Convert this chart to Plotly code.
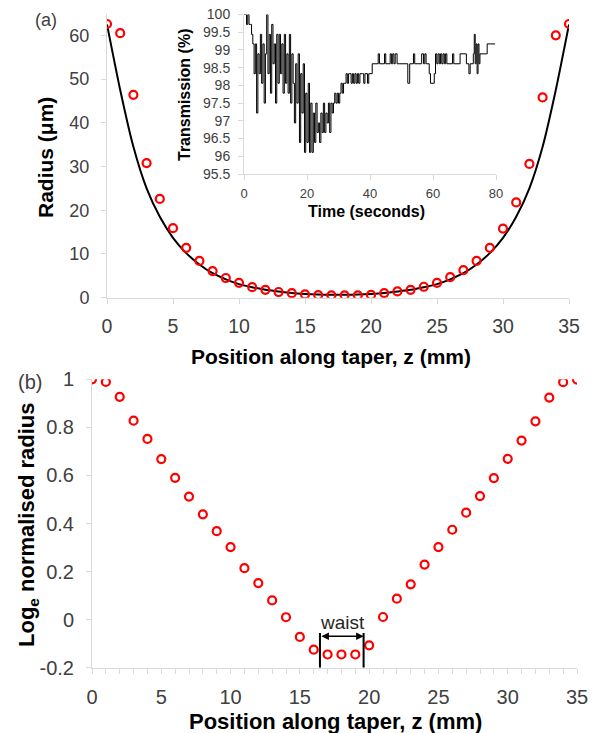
import plotly.graph_objects as go

# ---------------- data ----------------
z_mm = list(range(36))
radius_measured_um = [62.6, 60.5, 46.4, 30.8, 22.6, 15.9, 11.4, 8.4, 6.1, 4.5,
                      3.4, 2.4, 1.8, 1.3, 1.04, 0.74, 0.6, 0.55, 0.55, 0.55,
                      0.64, 1.05, 1.43, 1.8, 2.5, 3.4, 4.7, 6.3, 8.4, 11.4,
                      15.8, 21.8, 30.6, 45.8, 60.0, 62.6]
radius_model_um = [62.5, 47.5, 34.5, 25.0, 18.5, 13.7, 10.2, 7.6, 5.6, 4.2,
                   3.1, 2.4, 1.8, 1.4, 1.05, 0.85, 0.72, 0.66, 0.66, 0.72,
                   0.85, 1.05, 1.4, 1.8, 2.4, 3.1, 4.2, 5.6, 7.6, 10.2,
                   13.7, 18.5, 25.0, 34.5, 47.5, 62.5]
log_norm_radius = [1.0, 0.989, 0.927, 0.828, 0.752, 0.668, 0.590, 0.512, 0.438, 0.368,
                   0.302, 0.214, 0.152, 0.080, 0.010, -0.072, -0.125, -0.145, -0.145, -0.145,
                   -0.107, 0.011, 0.087, 0.147, 0.229, 0.302, 0.374, 0.445, 0.514, 0.589,
                   0.669, 0.745, 0.825, 0.924, 0.988, 0.999]

time_s = [0.0, 0.4, 0.8, 1.2, 1.6, 2.0, 2.4, 2.8, 3.2, 3.6,
          4.0, 4.4, 4.8, 5.2, 5.6, 6.0, 6.4, 6.8, 7.2, 7.6,
          8.0, 8.4, 8.8, 9.2, 9.6, 10.0, 10.4, 10.8, 11.2, 11.6,
          12.0, 12.4, 12.8, 13.2, 13.6, 14.0, 14.4, 14.8, 15.2, 15.6,
          16.0, 16.4, 16.8, 17.2, 17.6, 18.0, 18.4, 18.8, 19.2, 19.6,
          20.0, 20.4, 20.8, 21.2, 21.6, 22.0, 22.4, 22.8, 23.2, 23.6,
          24.0, 24.4, 24.8, 25.2, 25.6, 26.0, 26.4, 26.8, 27.2, 27.6,
          28.0, 28.4, 28.8, 29.2, 29.6, 30.0, 30.4, 30.8, 31.2, 31.6,
          32.0, 32.4, 32.8, 33.2, 33.6, 34.0, 34.4, 34.8, 35.2, 35.6,
          36.0, 36.4, 36.8, 37.6, 38.0, 38.4, 39.2, 39.6, 40.7, 42.6,
          43.0, 44.6, 45.0, 46.4, 46.8, 47.2, 47.6, 48.0, 48.6, 52.0,
          52.6, 53.8, 54.2, 56.4, 57.0, 57.4, 57.8, 58.8, 59.2, 60.4,
          60.8, 61.2, 61.6, 62.0, 62.4, 62.8, 63.2, 63.6, 64.0, 64.4,
          66.2, 66.6, 68.6, 70.6, 71.4, 71.8, 72.8, 73.1, 73.4, 73.7,
          74.0, 74.3, 74.6, 74.9, 77.2, 79.7]
transmission_pct = [100, 100, 99.72, 100, 99.72, 99.72, 99.44, 99.17, 98.33, 99.17,
                    97.22, 98.89, 98.33, 99.44, 98.06, 99.17, 97.50, 98.89, 100.0, 98.33,
                    99.44, 97.78, 99.72, 98.61, 99.17, 97.50, 99.44, 98.06, 99.44, 98.33,
                    99.17, 97.78, 99.44, 98.06, 98.89, 97.78, 99.44, 97.50, 98.89, 98.06,
                    96.94, 98.61, 97.50, 98.89, 96.39, 98.33, 97.22, 98.61, 96.11, 97.78,
                    96.39, 98.06, 96.11, 97.50, 96.11, 97.22, 96.39, 97.50, 96.67, 96.94,
                    96.39, 97.22, 96.67, 97.50, 96.67, 97.22, 96.94, 97.50, 96.67, 97.50,
                    97.22, 97.50, 97.78, 97.50, 97.78, 97.50, 97.78, 98.06, 97.78, 98.06,
                    98.06, 98.33, 98.06, 98.33, 98.33, 98.06, 98.33, 98.06, 98.33, 98.06,
                    98.33, 98.06, 98.33, 98.33, 98.06, 98.33, 98.06, 98.33, 98.61, 98.89,
                    98.61, 98.89, 98.61, 98.89, 98.61, 98.89, 98.61, 98.89, 98.61, 98.06,
                    98.61, 98.89, 98.61, 98.89, 98.61, 98.89, 98.61, 98.33, 98.06, 98.33,
                    98.89, 98.61, 98.89, 98.61, 98.89, 98.61, 98.89, 98.61, 98.89, 98.61,
                    98.89, 98.61, 98.89, 98.61, 98.33, 98.61, 98.89, 99.44, 98.61, 99.17,
                    98.33, 99.17, 98.61, 98.89, 99.17, 99.17]

top_x_ticks = [0, 5, 10, 15, 20, 25, 30, 35]
top_y_ticks = [0, 10, 20, 30, 40, 50, 60]
bot_y_ticks = [-0.2, 0, 0.2, 0.4, 0.6, 0.8, 1]
bot_y_labels = ["-0.2", "0", "0.2", "0.4", "0.6", "0.8", "1"]
inset_y_ticks = [95.5, 96, 96.5, 97, 97.5, 98, 98.5, 99, 99.5, 100]
inset_y_labels = ["95.5", "96", "96.5", "97", "97.5", "98", "98.5", "99", "99.5", "100"]
inset_x_ticks = [0, 20, 40, 60, 80]
waist_bounds_mm = [16.45, 19.6]

# ---------------- layout geometry (page pixels; page body has an 8px offset) ----------------
OFF = 8
W, H = 600 - OFF, 733 - OFF

def px(x):
    return (x - OFF) / W

def py(y):
    return 1 - (y - OFF) / H

def dom_x(a, b):
    return [px(a), px(b)]

def dom_y(top, bottom):
    return [py(bottom), py(top)]

FONT = "Liberation Sans, Arial, sans-serif"
AX = "#d9d9d9"
TXT = "#404040"
RED = "#ff0000"

fig = go.Figure()

fig.add_trace(go.Scatter(x=z_mm, y=radius_model_um, mode="lines",
                         line=dict(color="black", width=2, shape="spline", smoothing=0.6),
                         xaxis="x", yaxis="y", hoverinfo="skip"))
fig.add_trace(go.Scatter(x=z_mm, y=radius_measured_um, mode="markers",
                         marker=dict(symbol="circle-open", size=8, color=RED, line=dict(width=2.2, color=RED)),
                         xaxis="x", yaxis="y"))
fig.add_trace(go.Scatter(x=time_s, y=transmission_pct, mode="lines",
                         line=dict(color="black", width=1, shape="hv"),
                         xaxis="x3", yaxis="y3"))
fig.add_trace(go.Scatter(x=z_mm, y=log_norm_radius, mode="markers",
                         marker=dict(symbol="circle-open", size=8, color=RED, line=dict(width=2.2, color=RED)),
                         xaxis="x2", yaxis="y2"))

common = dict(showgrid=False, zeroline=False, showline=True, linecolor=AX, linewidth=1,
              ticks="outside", tickcolor=AX, ticklen=5, tickwidth=1, automargin=False,
              ticklabeloverflow="allow")

fig.update_layout(
    width=W, height=H,
    margin=dict(l=0, r=0, t=0, b=0, autoexpand=False),
    paper_bgcolor="white", plot_bgcolor="white",
    showlegend=False,
    font=dict(family=FONT, color=TXT),
    xaxis=dict(domain=dom_x(107, 569), range=[0, 35], anchor="y",
               tickvals=top_x_ticks, tickfont=dict(size=19.5, color=TXT), ticklabelstandoff=6, **common),
    yaxis=dict(domain=dom_y(13.5, 297.7), range=[0, 65], anchor="x",
               tickvals=top_y_ticks, tickfont=dict(size=18, color=TXT), ticklabelstandoff=8, **common),
    xaxis2=dict(domain=dom_x(92, 577), range=[0, 35], anchor="y2",
                tickvals=top_x_ticks, tickfont=dict(size=20, color=TXT), ticklabelstandoff=6,
                minor=dict(dtick=1, ticks="outside", ticklen=5, tickcolor=AX), **common),
    yaxis2=dict(domain=dom_y(379.3, 667.7), range=[-0.2, 1], anchor="x2",
                tickvals=bot_y_ticks, ticktext=bot_y_labels, tickfont=dict(size=20, color=TXT),
                ticklabelstandoff=8, **common),
    xaxis3=dict(domain=dom_x(244, 496), range=[0, 80], anchor="y3",
                tickvals=inset_x_ticks, tickfont=dict(size=13, color=TXT), ticklabelstandoff=2, **common),
    yaxis3=dict(domain=dom_y(14.5, 174), range=[95.5, 100], anchor="x3",
                tickvals=inset_y_ticks, ticktext=inset_y_labels, tickfont=dict(size=14, color=TXT),
                ticklabelstandoff=5, **common),
)

def pa(text, x, y, size, angle=0, bold=False, color="black"):
    fig.add_annotation(text=f"<b>{text}</b>" if bold else text, x=px(x), y=py(y),
                       xref="paper", yref="paper", showarrow=False, textangle=angle,
                       xanchor="center", yanchor="middle",
                       font=dict(family=FONT, size=size, color=color))

pa("(a)", 46, 20, 18, color=TXT)
pa("(b)", 30, 382, 20, color=TXT)
pa("Position along taper, z (mm)", 331, 356, 21, bold=True)
pa("Radius (μm)", 46, 158, 21, angle=-90, bold=True)
pa("Position along taper, z (mm)", 335, 721, 22, bold=True)
pa("Log<sub>e</sub> normalised radius", 28, 525, 22, angle=-90, bold=True)
pa("Transmission (%)", 184, 95, 16, angle=-90, bold=True)
pa("Time (seconds)", 366, 211, 16, bold=True)

for xb in waist_bounds_mm:
    fig.add_shape(type="line", xref="x2", yref="y2", x0=xb, x1=xb, y0=-0.2, y1=-0.056,
                  line=dict(color="black", width=2))
fig.add_annotation(x=waist_bounds_mm[1], y=-0.069, ax=waist_bounds_mm[0], ay=-0.069,
                   xref="x2", yref="y2", axref="x2", ayref="y2", text="", showarrow=True,
                   arrowhead=2, startarrowhead=2, arrowside="end+start", arrowsize=1,
                   arrowwidth=1.5, arrowcolor="black")
fig.add_annotation(x=18.05, y=-0.01, xref="x2", yref="y2", text="waist", showarrow=False,
                   xanchor="center", yanchor="middle", font=dict(family=FONT, size=19, color="#262626"))

fig.write_html("out.html")
